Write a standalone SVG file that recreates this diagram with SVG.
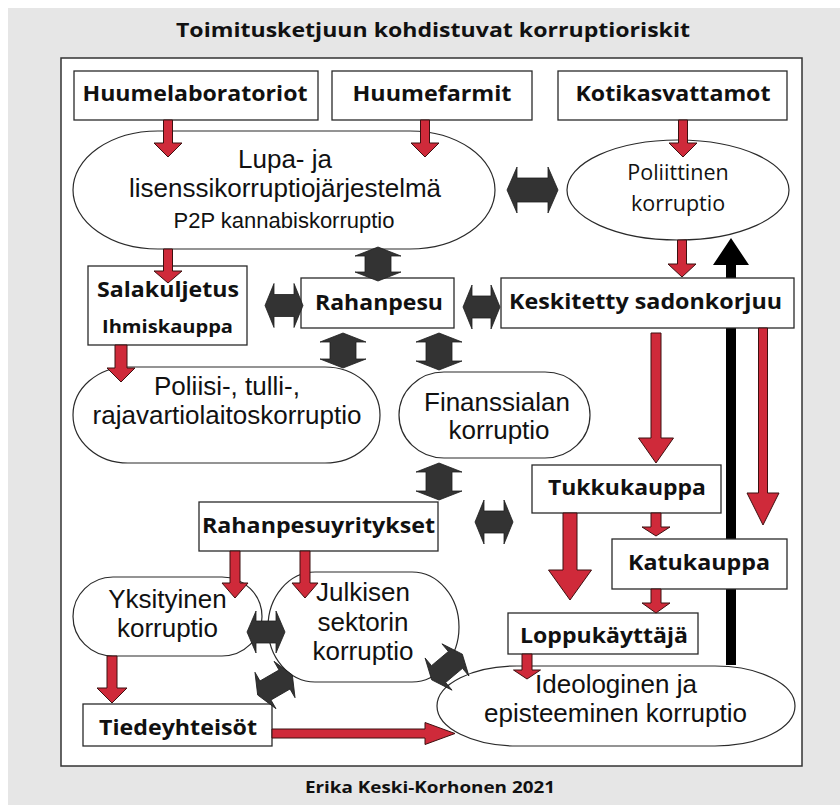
<svg xmlns="http://www.w3.org/2000/svg" width="840" height="807" viewBox="0 0 840 807">
<style>
.bg{fill:#e6e6e6}
.frame{fill:#fff;stroke:#333;stroke-width:1.5}
.box{fill:#fff;stroke:#2a2a2a;stroke-width:1.3}
.oval{fill:#fff;stroke:#2a2a2a;stroke-width:1.2}
.b{font-family:"Open Sans","Liberation Sans",sans-serif;font-weight:700;fill:#111;text-anchor:middle}
.r{font-family:"Liberation Sans",Arial,sans-serif;fill:#111;text-anchor:middle;font-size:26px}
.r2{font-family:"Liberation Sans",Arial,sans-serif;fill:#111;text-anchor:middle;font-size:22px}
.o{font-family:"Open Sans","Liberation Sans",sans-serif;fill:#111;text-anchor:middle;font-size:21.5px}
.red{fill:#cf2a3a;stroke:#3d1010;stroke-width:1}
.dk{fill:#333;stroke:#1e1e1e;stroke-width:0.8}
.blk{fill:#000}
</style>
<rect class="bg" x="8" y="8" width="832" height="797"/>
<text class="b" x="433" y="37" font-size="20" textLength="514" lengthAdjust="spacingAndGlyphs">Toimitusketjuun kohdistuvat korruptioriskit</text>
<rect class="frame" x="61" y="58" width="741" height="708"/>
<text class="b" x="430" y="793" font-size="16.5" textLength="250" lengthAdjust="spacingAndGlyphs">Erika Keski-Korhonen 2021</text>

<g id="connectors-back">
<path class="blk" d="M726,665 L736,665 L736,265 L749,265 L731,238 L713,265 L726,265 Z"/>
</g>

<g id="nodes">
<g id="huumelaboratoriot"><rect class="box" x="74" y="71" width="244" height="49"/><text class="b" x="195" y="101" font-size="21" textLength="225" lengthAdjust="spacingAndGlyphs">Huumelaboratoriot</text></g>
<g id="huumefarmit"><rect class="box" x="332" y="71" width="200" height="49"/><text class="b" x="432" y="101" font-size="21" textLength="159" lengthAdjust="spacingAndGlyphs">Huumefarmit</text></g>
<g id="kotikasvattamot"><rect class="box" x="558" y="71" width="229" height="49"/><text class="b" x="673" y="101" font-size="21" textLength="195" lengthAdjust="spacingAndGlyphs">Kotikasvattamot</text></g>
<g id="lupa"><rect class="oval" x="73" y="131" width="422" height="118" rx="85" ry="59"/><text class="r" x="285" y="168">Lupa- ja</text><text class="r" x="285" y="197">lisenssikorruptiojärjestelmä</text><text class="r2" x="284" y="228">P2P kannabiskorruptio</text></g>
<g id="poliittinen"><ellipse class="oval" cx="678" cy="190" rx="111" ry="50"/><text class="o" x="678" y="180">Poliittinen</text><text class="o" x="678" y="211">korruptio</text></g>
<g id="salakuljetus"><rect class="box" x="88" y="266" width="159" height="79"/><text class="b" x="168" y="297" font-size="21" textLength="142" lengthAdjust="spacingAndGlyphs">Salakuljetus</text><text class="b" x="167.5" y="333" font-size="18" textLength="131" lengthAdjust="spacingAndGlyphs">Ihmiskauppa</text></g>
<g id="rahanpesu"><rect class="box" x="301" y="278" width="153" height="50"/><text class="b" x="379" y="310" font-size="21" textLength="128" lengthAdjust="spacingAndGlyphs">Rahanpesu</text></g>
<g id="keskitetty"><rect class="box" x="501" y="278" width="293" height="50"/><text class="b" x="645.5" y="309" font-size="21" textLength="273" lengthAdjust="spacingAndGlyphs">Keskitetty sadonkorjuu</text></g>
<g id="poliisi"><rect class="oval" x="73" y="367" width="307" height="96" rx="55" ry="48"/><text class="r" x="227" y="395">Poliisi-, tulli-,</text><text class="r" x="227" y="424">rajavartiolaitoskorruptio</text></g>
<g id="finanssialan"><rect class="oval" x="399" y="372" width="191" height="86" rx="45" ry="43"/><text class="r" x="497" y="411">Finanssialan</text><text class="r" x="499" y="439">korruptio</text></g>
<g id="tukkukauppa"><rect class="box" x="532" y="465" width="189" height="48"/><text class="b" x="627" y="495" font-size="21" textLength="158" lengthAdjust="spacingAndGlyphs">Tukkukauppa</text></g>
<g id="rahanpesuyritykset"><rect class="box" x="199" y="502" width="239" height="49"/><text class="b" x="318.5" y="533" font-size="21" textLength="233" lengthAdjust="spacingAndGlyphs">Rahanpesuyritykset</text></g>
<g id="katukauppa"><rect class="box" x="612" y="539" width="175" height="50"/><text class="b" x="699" y="570" font-size="21" textLength="142" lengthAdjust="spacingAndGlyphs">Katukauppa</text></g>
<g id="yksityinen"><rect class="oval" x="73" y="577" width="189" height="79" rx="40" ry="39.5"/><text class="r" x="167.5" y="608">Yksityinen</text><text class="r" x="167.5" y="637">korruptio</text></g>
<g id="julkisen"><rect class="oval" x="268" y="572" width="191" height="110" rx="47" ry="55"/><text class="r" x="363" y="601">Julkisen</text><text class="r" x="363" y="631">sektorin</text><text class="r" x="363" y="660">korruptio</text></g>
<g id="loppukayttaja"><rect class="box" x="508" y="613" width="190" height="41"/><text class="b" x="604" y="643" font-size="21" textLength="168" lengthAdjust="spacingAndGlyphs">Loppukäyttäjä</text></g>
<g id="ideologinen"><rect class="oval" x="437" y="666" width="358" height="80" rx="80" ry="40"/><text class="r" x="616" y="693">Ideologinen ja</text><text class="r" x="615.5" y="722">episteeminen korruptio</text></g>
<g id="tiedeyhteisot"><rect class="box" x="83" y="704" width="189" height="42"/><text class="b" x="178" y="735" font-size="21" textLength="158" lengthAdjust="spacingAndGlyphs">Tiedeyhteisöt</text></g>
</g>

<g id="connectors">
<path class="red" d="M163.5,120 L172.5,120 L172.5,143 L182,143 L168,157 L154,143 L163.5,143 Z"/>
<path class="red" d="M420.5,120 L429.5,120 L429.5,143 L439,143 L425,157 L411,143 L420.5,143 Z"/>
<path class="red" d="M678.5,120 L687.5,120 L687.5,143 L697,143 L683,157 L669,143 L678.5,143 Z"/>
<path class="red" d="M163.5,249 L172.5,249 L172.5,271 L182,271 L168,283 L154,271 L163.5,271 Z"/>
<path class="red" d="M677.5,240 L686.5,240 L686.5,264 L696,264 L682,277 L668,264 L677.5,264 Z"/>
<path class="red" d="M115,345 L127,345 L127,368 L135,368 L121,382 L107,368 L115,368 Z"/>
<path class="red" d="M651,333 L661,333 L661,438 L673.5,438 L656,463 L638.5,438 L651,438 Z"/>
<path class="red" d="M758.5,328 L767.5,328 L767.5,493 L779,493 L763,525 L747,493 L758.5,493 Z"/>
<path class="red" d="M563,513 L577,513 L577,570 L591.5,570 L570,600 L548.5,570 L563,570 Z"/>
<path class="red" d="M651,513 L661,513 L661,527 L670,527 L656,536 L642,527 L651,527 Z"/>
<path class="red" d="M651,589 L661,589 L661,603 L670,603 L656,613 L642,603 L651,603 Z"/>
<path class="red" d="M522,654 L532,654 L532,670 L540.5,670 L527,679 L513.5,670 L522,670 Z"/>
<path class="red" d="M230,551 L240,551 L240,583 L248,583 L235,598 L222,583 L230,583 Z"/>
<path class="red" d="M300,551 L310,551 L310,583 L318,583 L305,598 L292,583 L300,583 Z"/>
<path class="red" d="M107,656 L117,656 L117,688 L127,688 L112,703 L97,688 L107,688 Z"/>
<path class="red" d="M272,729 L425,729 L425,722.5 L455,733.5 L425,744.5 L425,738 L272,738 Z"/>

<path class="dk" d="M507,190 L517,167 L517,178 L548,178 L548,167 L558,190 L548,213 L548,202 L517,202 L517,213 Z"/>
<path class="dk" d="M265,305.5 L274,283.5 L274,294.5 L294,294.5 L294,283.5 L303,305.5 L294,327.5 L294,316.5 L274,316.5 L274,327.5 Z"/>
<path class="dk" d="M463,307 L472,285 L472,296 L491,296 L491,285 L500,307 L491,329 L491,318 L472,318 L472,329 Z"/>
<path class="dk" d="M475,522 L484,500 L484,511 L504,511 L504,500 L513,522 L504,544 L504,533 L484,533 L484,544 Z"/>
<path class="dk" d="M247,632 L256,611 L256,621 L276,621 L276,611 L285,632 L276,653 L276,643 L256,643 L256,653 Z"/>
<path class="dk" d="M378,247 L401,256 L391,256 L391,272 L401,272 L378,281 L355,272 L365,272 L365,256 L355,256 Z"/>
<path class="dk" d="M343,333 L366,342 L356,342 L356,359 L366,359 L343,368 L320,359 L330,359 L330,342 L320,342 Z"/>
<path class="dk" d="M439,333 L462,342 L452,342 L452,361 L462,361 L439,370 L416,361 L426,361 L426,342 L416,342 Z"/>
<path class="dk" d="M439,463 L462,472 L452,472 L452,491 L462,491 L439,500 L416,491 L426,491 L426,472 L416,472 Z"/>
<path class="dk" transform="translate(275,685) rotate(-30)" d="M-20,0 L-11,-21 L-11,-11 L11,-11 L11,-21 L20,0 L11,21 L11,11 L-11,11 L-11,21 Z"/>
<path class="dk" transform="translate(447,667) rotate(-40)" d="M-20,0 L-11,-21 L-11,-11 L11,-11 L11,-21 L20,0 L11,21 L11,11 L-11,11 L-11,21 Z"/>
</g>
</svg>
